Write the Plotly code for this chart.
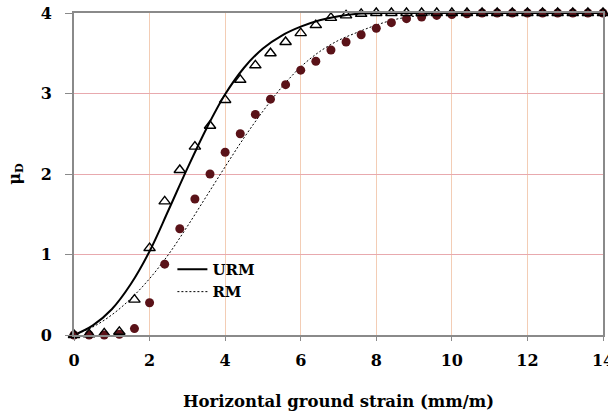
import plotly.graph_objects as go

# Data points (mm/m strain, mu_D)
x_pts = [0, 0.4, 0.8, 1.2, 1.6, 2.0, 2.4, 2.8, 3.2, 3.6, 4.0, 4.4, 4.8, 5.2, 5.6, 6.0,
         6.4, 6.8, 7.2, 7.6, 8.0, 8.4, 8.8, 9.2, 9.6, 10.0, 10.4, 10.8, 11.2, 11.6,
         12.0, 12.4, 12.8, 13.2, 13.6, 14.0]
urm_pts = [0, 0.01, 0.02, 0.04, 0.44, 1.08, 1.66, 2.05, 2.34, 2.6, 2.92, 3.17, 3.35, 3.5,
           3.64, 3.75, 3.85, 3.94, 3.97, 3.99, 4.0, 4.0, 4.0, 4.0, 4.0, 4.0, 4.0, 4.0,
           4.0, 4.0, 4.0, 4.0, 4.0, 4.0, 4.0, 4.0]
rm_pts = [0, 0, 0, 0.01, 0.08, 0.4, 0.88, 1.32, 1.69, 2.0, 2.27, 2.5, 2.74, 2.93, 3.11,
          3.29, 3.4, 3.54, 3.64, 3.73, 3.81, 3.88, 3.93, 3.95, 3.97, 3.98, 3.99, 4.0,
          4.0, 4.0, 4.0, 4.0, 4.0, 4.0, 4.0, 4.0]

# Fitted curves
x_line = [0, 0.5, 1.0, 1.5, 2.0, 2.5, 3.0, 3.5, 4.0, 4.5, 5.0, 5.5, 6.0, 6.5, 7.0,
          7.5, 8.0, 8.5, 9.0, 9.5, 10.0, 12.0, 14.0]
urm_line = [0, 0.12, 0.32, 0.63, 1.04, 1.55, 2.07, 2.56, 2.99, 3.32, 3.56, 3.72, 3.83,
            3.91, 3.96, 3.99, 4.0, 4.0, 4.0, 4.0, 4.0, 4.0, 4.0]
rm_line = [0, 0.1, 0.25, 0.45, 0.7, 1.0, 1.35, 1.72, 2.09, 2.45, 2.78, 3.08, 3.33,
           3.52, 3.66, 3.76, 3.85, 3.92, 3.96, 3.98, 4.0, 4.0, 4.0]

x_ticks = [0, 2, 4, 6, 8, 10, 12, 14]
y_ticks = [0, 1, 2, 3, 4]

FONT = "DejaVu Serif"
fig = go.Figure()

fig.add_trace(go.Scatter(x=x_line, y=urm_line, mode="lines", name="URM",
                         line=dict(color="black", width=2, shape="spline"),
                         cliponaxis=False))
fig.add_trace(go.Scatter(x=x_line, y=rm_line, mode="lines", name="RM",
                         line=dict(color="black", width=1, dash="2px,2px", shape="spline"),
                         cliponaxis=False))
fig.add_trace(go.Scatter(x=x_pts, y=rm_pts, mode="markers", showlegend=False,
                         marker=dict(symbol="circle", size=9, color="#5a1218",
                                     line=dict(width=0)),
                         cliponaxis=False))
fig.add_trace(go.Scatter(x=x_pts, y=urm_pts, mode="markers", showlegend=False,
                         marker=dict(symbol="triangle-up-open", size=10, color="black",
                                     line=dict(width=1.4)),
                         cliponaxis=False))

fig.update_layout(
    width=608, height=414,
    margin=dict(l=74, r=5, t=13, b=79),
    paper_bgcolor="white", plot_bgcolor="white",
    font=dict(family=FONT, size=16, color="black"),
    showlegend=True,
    legend=dict(x=0.186, y=0.255, xanchor="left", yanchor="top",
                bgcolor="rgba(0,0,0,0)", borderwidth=0,
                font=dict(family=FONT, size=15, color="black", weight="bold"),
                tracegroupgap=0, itemwidth=30),
)
fig.update_xaxes(
    range=[0, 14], tickvals=x_ticks, ticktext=[f"<b>{v}</b>" for v in x_ticks],
    showgrid=True, gridcolor="#f3cdb5", gridwidth=1,
    showline=True, linecolor="#8a8a8a", linewidth=2, mirror=True,
    ticks="outside", ticklen=4, tickcolor="#8a8a8a", tickwidth=1,
    zeroline=False, ticklabeloverflow="allow", ticklabelstandoff=6,
    automargin=False,
    tickfont=dict(family=FONT, size=16, color="black"),
    title=dict(text="<b>Horizontal ground strain (mm/m)</b>", standoff=26,
               font=dict(family=FONT, size=16.5, color="black")),
)
fig.update_yaxes(
    range=[0, 4], tickvals=y_ticks, ticktext=[f"<b>{v}</b>" for v in y_ticks],
    showgrid=True, gridcolor="#e8a9ae", gridwidth=1,
    showline=True, linecolor="#8a8a8a", linewidth=2, mirror=True,
    ticks="outside", ticklen=7, tickcolor="#8a8a8a", tickwidth=1,
    zeroline=False, ticklabelstandoff=10, automargin=False,
    tickfont=dict(family=FONT, size=16, color="black"),
    title=dict(text="<b>μ<sub>D</sub></b>", standoff=16,
               font=dict(family=FONT, size=16, color="black")),
)

fig.write_html("out.html")
